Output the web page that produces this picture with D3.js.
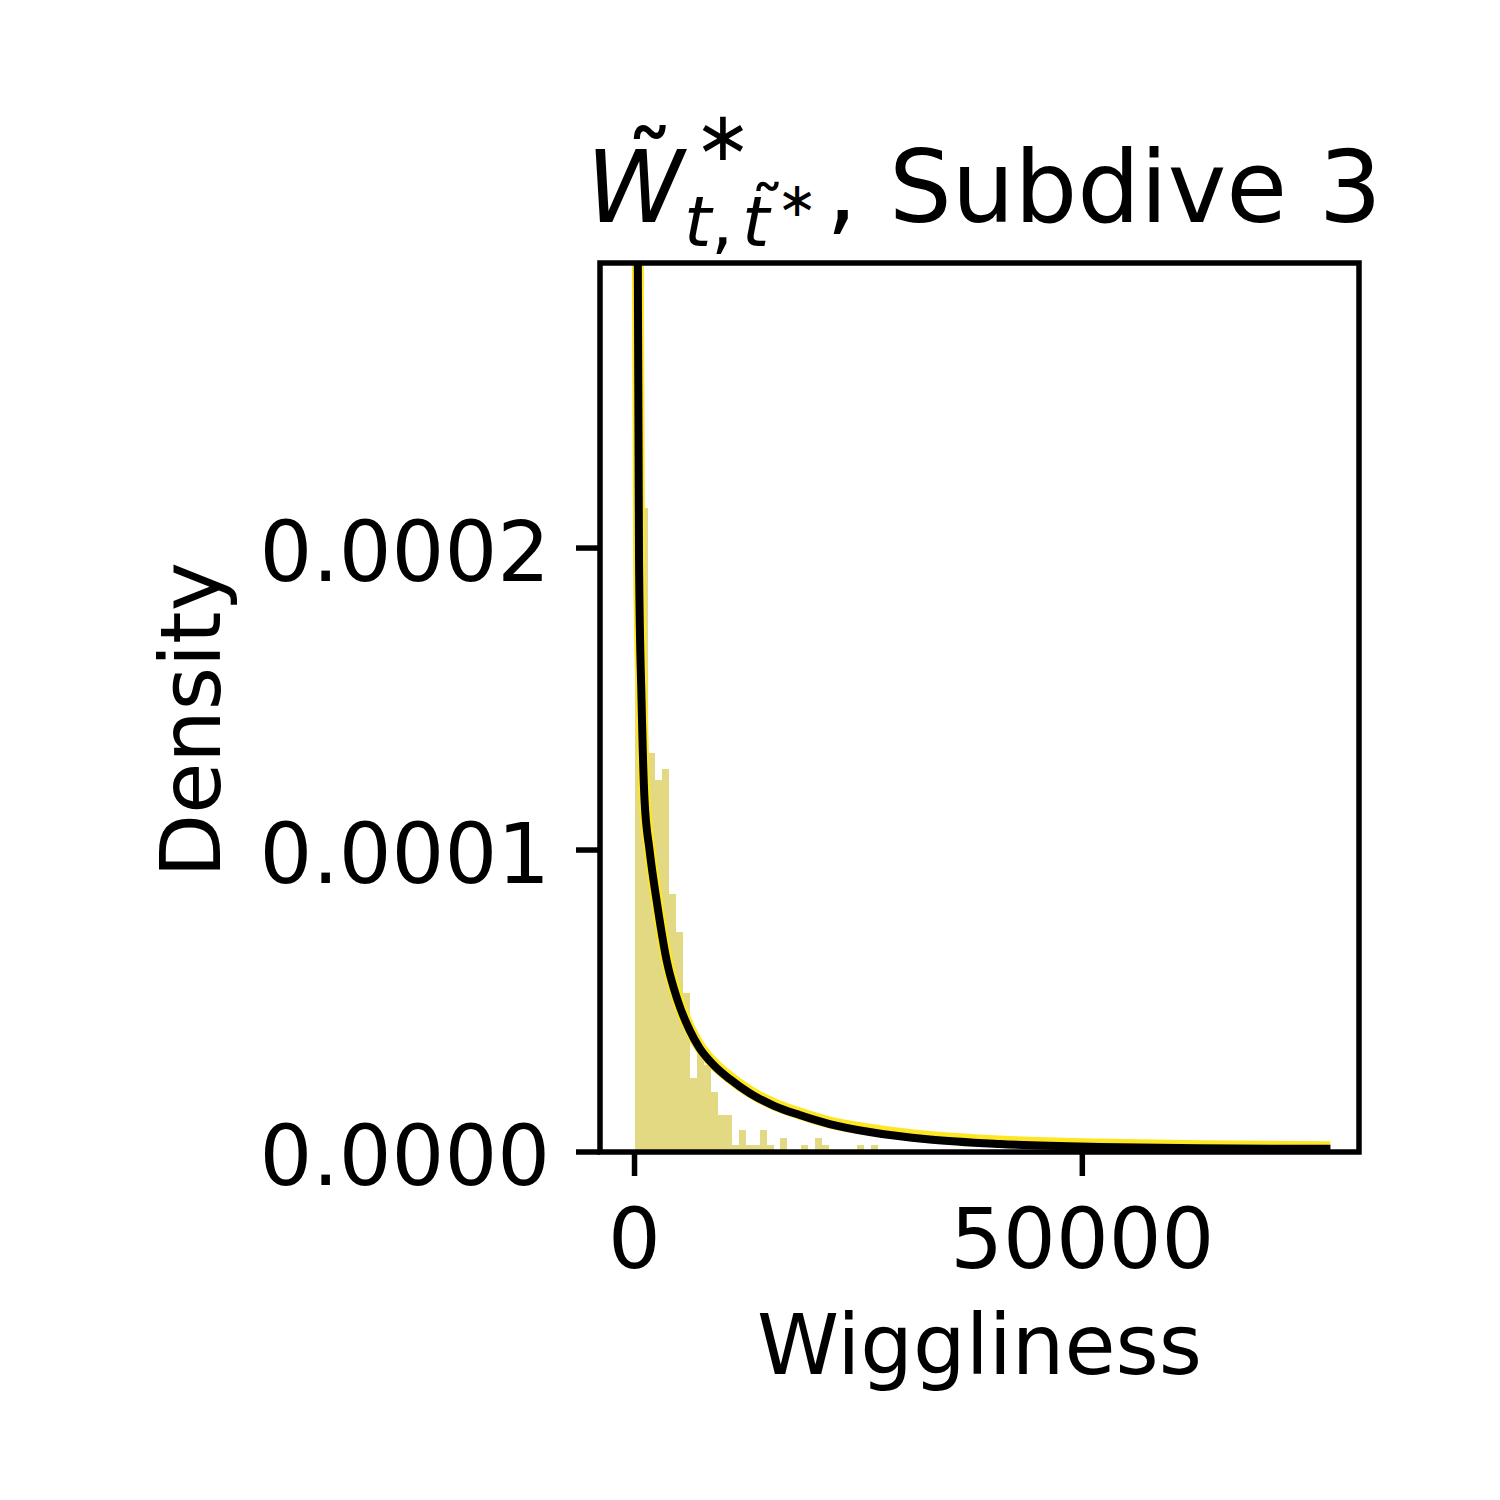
<!DOCTYPE html>
<html>
<head>
<meta charset="utf-8">
<script src="https://cdn.jsdelivr.net/npm/d3@7"></script>
<style>
  html, body { margin: 0; padding: 0; background: #ffffff; }
  svg { display: block; }
  text { font-family: "DejaVu Sans", sans-serif; fill: #000; }
</style>
</head>
<body>
<svg id="chart" width="1500" height="1500"></svg>
<script>
// ---------------- data ----------------
// histogram: density per bin, bins start at 0 with constant width
const binStart = 0;
const binWidth = 776;
const binDensity = [
  4.0e-4, 2.132e-4, 1.321e-4, 1.232e-4, 1.268e-4, 0.854e-4, 0.728e-4, 0.526e-4,
  0.245e-4, 0.351e-4, 0.288e-4, 0.199e-4, 0.1225e-4, 0.1225e-4, 0.0232e-4, 0.0728e-4,
  0.0232e-4, 0.0232e-4, 0.0728e-4, 0.0232e-4, 0, 0.0464e-4, 0, 0,
  0.0232e-4, 0, 0.0464e-4, 0.0232e-4, 0, 0, 0, 0,
  0.0232e-4, 0, 0.0232e-4
];
// fitted density curves
const curveX = [300, 369, 503, 782, 1117, 1676, 2458, 3575, 4804, 6145, 7263, 8939,
  10615, 12849, 15642, 18436, 21788, 26257, 32961, 40782, 51955, 63128, 77700];
const blackY = [3.6e-4, 2.944e-4, 1.960e-4, 1.497e-4, 1.166e-4, 1.000e-4, 0.834e-4,
  0.636e-4, 0.503e-4, 0.404e-4, 0.344e-4, 0.285e-4, 0.242e-4, 0.195e-4, 0.152e-4,
  0.1225e-4, 0.0927e-4, 0.0662e-4, 0.0414e-4, 0.0265e-4, 0.0166e-4, 0.0123e-4, 0.0106e-4];
const yellowY = [3.7e-4, 2.95e-4, 1.975e-4, 1.510e-4, 1.176e-4, 1.005e-4, 0.839e-4,
  0.641e-4, 0.508e-4, 0.409e-4, 0.349e-4, 0.290e-4, 0.247e-4, 0.200e-4, 0.157e-4,
  0.1275e-4, 0.0977e-4, 0.0742e-4, 0.0494e-4, 0.0345e-4, 0.0246e-4, 0.0193e-4, 0.0156e-4];
const xTicks = [0, 50000];
const xTickLabels = ["0", "50000"];
const yTicks = [0, 0.0001, 0.0002];
const yTickLabels = ["0.0000", "0.0001", "0.0002"];
const xDomain = [-3855, 80894];
const yDomain = [0, 2.944e-4];

// ---------------- layout ----------------
const L = 600, R = 1359, T = 263, B = 1152;
const FS = 83, TFS = 99;
const svg = d3.select("#chart");
const x = d3.scaleLinear().domain(xDomain).range([L, R]);
const y = d3.scaleLinear().domain(yDomain).range([B, T]);

svg.append("defs").append("clipPath").attr("id", "plotclip")
  .append("rect").attr("x", L).attr("y", T).attr("width", R - L).attr("height", B - T);

const plot = svg.append("g").attr("clip-path", "url(#plotclip)");

const bins = binDensity.map((d, i) => ({x0: binStart + i * binWidth, x1: binStart + (i + 1) * binWidth, d}));
plot.selectAll("rect.bar").data(bins.filter(b => b.d > 0)).enter().append("rect")
  .attr("class", "bar")
  .attr("x", b => x(b.x0))
  .attr("width", b => x(b.x1) - x(b.x0))
  .attr("y", b => y(b.d))
  .attr("height", b => y(0) - y(b.d))
  .attr("fill", "#e2d982")
  .attr("shape-rendering", "crispEdges");

const line = d3.line().x(d => x(d[0])).y(d => y(d[1])).curve(d3.curveMonotoneX);
plot.append("path").datum(curveX.map((v, i) => [v, yellowY[i]]))
  .attr("d", line).attr("fill", "none").attr("stroke", "#fde725").attr("stroke-width", 12);
plot.append("path").datum(curveX.map((v, i) => [v, blackY[i]]))
  .attr("d", line).attr("fill", "none").attr("stroke", "#000").attr("stroke-width", 8);

// frame
svg.append("rect").attr("x", L).attr("y", T).attr("width", R - L).attr("height", B - T)
  .attr("fill", "none").attr("stroke", "#000").attr("stroke-width", 5.5);

// x axis ticks
const xa = svg.append("g");
xTicks.forEach((t, i) => {
  xa.append("line").attr("x1", x(t)).attr("x2", x(t)).attr("y1", B).attr("y2", B + 24)
    .attr("stroke", "#000").attr("stroke-width", 5.5);
  xa.append("text").attr("x", x(t)).attr("y", 1268).attr("text-anchor", "middle")
    .attr("font-size", FS).text(xTickLabels[i]);
});
// y axis ticks
const ya = svg.append("g");
yTicks.forEach((t, i) => {
  ya.append("line").attr("x1", L - 24).attr("x2", L).attr("y1", y(t)).attr("y2", y(t))
    .attr("stroke", "#000").attr("stroke-width", 5.5);
  ya.append("text").attr("x", 550).attr("y", y(t) + 33).attr("text-anchor", "end")
    .attr("font-size", FS).text(yTickLabels[i]);
});

// axis labels
svg.append("text").attr("x", (L + R) / 2).attr("y", 1374).attr("text-anchor", "middle")
  .attr("font-size", FS).text("Wiggliness");
svg.append("text").attr("transform", "translate(220,720) rotate(-90)").attr("text-anchor", "middle")
  .attr("font-size", FS).text("Density");

// title: W~*_{t, t~*}, Subdive 3  (one text element, pieces placed as tspans)
const title = svg.append("text").attr("xml:space", "preserve");
const pieces = [
  {t: "W", x: 586, y: 222, s: TFS, i: true},
  {t: "\u02DC", x: 625, y: 203, s: TFS},
  {t: "\u2217", x: 694, y: 160, s: 69},
  {t: "t", x: 684, y: 246, s: 70, i: true},
  {t: ",", x: 711, y: 246, s: 70},
  {t: "t", x: 742, y: 246, s: 70, i: true},
  {t: "\u02DC", x: 750, y: 236, s: 70},
  {t: "\u2217", x: 777, y: 216, s: 48},
  {t: ", Subdive 3", x: 826, y: 222, s: TFS}
];
pieces.forEach(p => {
  title.append("tspan").attr("x", p.x).attr("y", p.y).attr("font-size", p.s)
    .attr("font-style", p.i ? "italic" : "normal").text(p.t);
});
</script>
</body>
</html>
